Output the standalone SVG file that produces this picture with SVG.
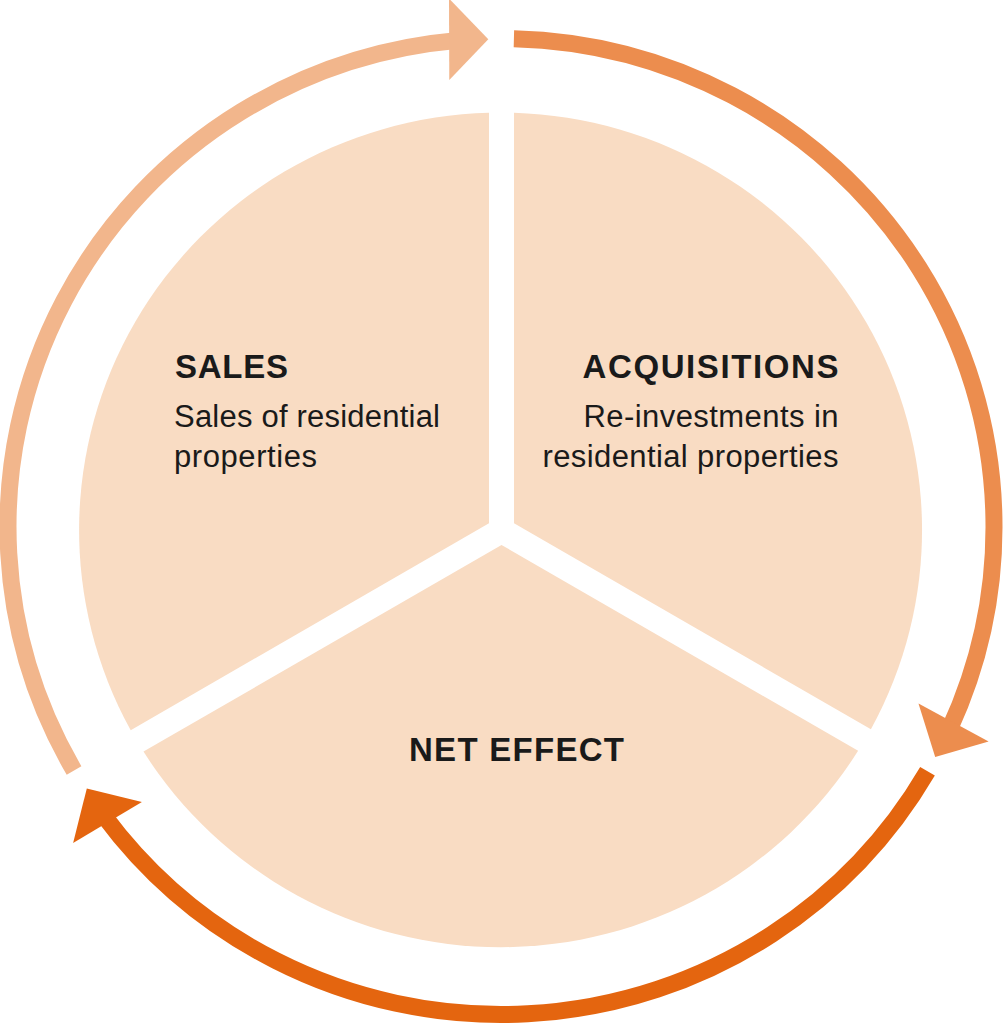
<svg xmlns="http://www.w3.org/2000/svg" width="1003" height="1024" viewBox="0 0 1003 1024">
<style>
.seg{fill:#F9DCC3}
.arc{fill:none;stroke-width:17;stroke-linecap:butt}
.h{font-family:"Liberation Sans",Arial,sans-serif;font-weight:bold;font-size:33px;fill:#1a1a1a}
.t{font-family:"Liberation Sans",Arial,sans-serif;font-size:31px;fill:#1a1a1a}
</style>
<rect width="1003" height="1024" fill="#ffffff"/>
<g id="connectors">
  <g id="arc-light">
    <path class="arc" stroke="#F2B68C" d="M74.05 770.5 A493 488 0 0 1 458.03 40.36"/>
    <polygon fill="#F2B68C" points="449,-1.5 488.3,39.3 449.3,80"/>
  </g>
  <g id="arc-medium">
    <path class="arc" stroke="#EC8D4E" d="M513.9 38.67 A493 488 0 0 1 949.61 728.87"/>
    <polygon fill="#EC8D4E" points="918.5,703.5 935.2,757 988.6,741.5"/>
  </g>
  <g id="arc-dark">
    <path class="arc" stroke="#E4650F" d="M927.52 771.24 A493 488 0 0 1 103.68 815.4"/>
    <polygon fill="#E4650F" points="141.9,802.1 86.8,788.5 73.1,842.9"/>
  </g>
</g>
<g id="sales">
  <path class="seg" d="M489 523.3 L130.7 730.2 A421.5 417.5 0 0 1 489 112.7 Z"/>
  <text class="h" x="175" y="378" textLength="113" lengthAdjust="spacing">SALES</text>
  <text class="t" x="174" y="426.5" textLength="266" lengthAdjust="spacing">Sales of residential</text>
  <text class="t" x="174" y="466.5" textLength="143" lengthAdjust="spacing">properties</text>
</g>
<g id="acquisitions">
  <path class="seg" d="M514 523.3 L514 112.7 A421.5 417.5 0 0 1 870.9 729.3 Z"/>
  <text class="h" x="838.5" y="378" text-anchor="end" textLength="256" lengthAdjust="spacing">ACQUISITIONS</text>
  <text class="t" x="838.5" y="426.5" text-anchor="end" textLength="255" lengthAdjust="spacing">Re-investments in</text>
  <text class="t" x="838.5" y="466.5" text-anchor="end" textLength="296" lengthAdjust="spacing">residential properties</text>
</g>
<g id="net-effect">
  <path class="seg" d="M501.5 544.9 L143.5 751.6 A421.5 417.5 0 0 0 858.1 750.8 Z"/>
  <text class="h" x="409" y="761" textLength="215" lengthAdjust="spacing">NET EFFECT</text>
</g>
</svg>
